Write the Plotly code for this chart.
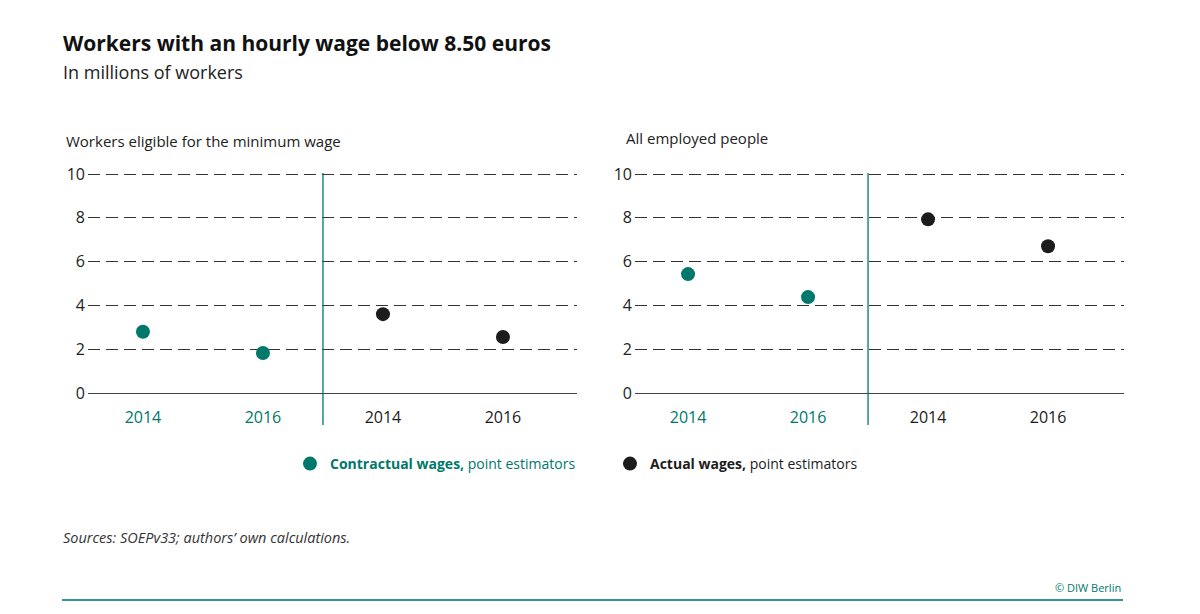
import plotly.graph_objects as go

# ---- data ----
categories = ["2014", "2016", "2014", "2016"]
cat_pos = [0, 1, 2, 3]
eligible_contractual = [2.8, 1.83]
eligible_actual = [3.6, 2.56]
all_contractual = [5.43, 4.38]
all_actual = [7.93, 6.7]
y_ticks = [0, 2, 4, 6, 8, 10]

TEAL = "#00786c"
BLACK = "#1c1c1c"
FONT = "Open Sans"
OFF = 8  # page body margin
W, H = 1200 - OFF, 614 - OFF

def px_x(p):
    return (p - OFF) / W

def px_y(p):
    return (H - (p - OFF)) / H

fig = go.Figure()

# left panel
fig.add_trace(go.Scatter(x=cat_pos[:2], y=eligible_contractual, mode="markers",
                         marker=dict(color=TEAL, size=14),
                         name=f'<span style="color:{TEAL}"><b>Contractual wages,</b> point estimators</span>',
                         xaxis="x", yaxis="y", legendgroup="c", showlegend=True))
fig.add_trace(go.Scatter(x=cat_pos[2:], y=eligible_actual, mode="markers",
                         marker=dict(color=BLACK, size=14),
                         name=f'<span style="color:{BLACK}"><b>Actual wages,</b> point estimators</span>',
                         xaxis="x", yaxis="y", legendgroup="a", showlegend=True))
# right panel
fig.add_trace(go.Scatter(x=cat_pos[:2], y=all_contractual, mode="markers",
                         marker=dict(color=TEAL, size=14), name="Contractual wages",
                         xaxis="x2", yaxis="y2", legendgroup="c", showlegend=False))
fig.add_trace(go.Scatter(x=cat_pos[2:], y=all_actual, mode="markers",
                         marker=dict(color=BLACK, size=14), name="Actual wages",
                         xaxis="x2", yaxis="y2", legendgroup="a", showlegend=False))

ticktext = [f'<span style="color:{TEAL if i < 2 else BLACK}">{c}</span>'
            for i, c in enumerate(categories)]

y_dom = [px_y(394.1), px_y(172.9)]

xaxis_common = dict(tickmode="array", tickvals=cat_pos, ticktext=ticktext,
                    showgrid=False, zeroline=False, showline=False, ticks="",
                    ticklabelstandoff=12, tickfont=dict(family=FONT, size=16, color=BLACK),
                    automargin=False, fixedrange=True)
yaxis_common = dict(range=[-0.05, 10.05], tickmode="array", tickvals=y_ticks,
                    showgrid=True, gridcolor="#333333", gridwidth=1, griddash="12px,6px",
                    zeroline=True, zerolinecolor="#444444", zerolinewidth=1.2,
                    showline=False, ticks="", ticklabelstandoff=2,
                    tickfont=dict(family=FONT, size=16, color="#222222"),
                    automargin=False, fixedrange=True, domain=y_dom)

fig.update_layout(
    width=W, height=H,
    margin=dict(l=0, r=0, t=0, b=0),
    paper_bgcolor="white", plot_bgcolor="white",
    xaxis=dict(domain=[px_x(88), px_x(577)], range=[-0.458, 3.617], anchor="y", **xaxis_common),
    yaxis=dict(anchor="x", **yaxis_common),
    xaxis2=dict(domain=[px_x(635), px_x(1124)], range=[-0.442, 3.633], anchor="y2", **xaxis_common),
    yaxis2=dict(anchor="x2", **yaxis_common),
    showlegend=True,
    legend=dict(orientation="h", x=px_x(290), y=px_y(464), xanchor="left", yanchor="middle",
                font=dict(family=FONT, size=14), entrywidth=275, entrywidthmode="pixels",
                bgcolor="rgba(0,0,0,0)", borderwidth=0),
    font=dict(family=FONT),
)

# separators
for xr in ["x", "x2"]:
    fig.add_shape(type="line", xref=xr, yref="paper", x0=1.5, x1=1.5,
                  y0=px_y(425), y1=px_y(173), line=dict(color=TEAL, width=1.3))

# bottom rule
fig.add_shape(type="line", xref="paper", yref="paper", x0=px_x(62), x1=px_x(1123),
              y0=px_y(600), y1=px_y(600), line=dict(color="#3a9393", width=2))

ann = [
    dict(text="<b>Workers with an hourly wage below 8.50 euros</b>", x=px_x(61), y=px_y(43),
         size=21, color="#111111", xanchor="left"),
    dict(text="In millions of workers", x=px_x(61), y=px_y(72), size=18, color="#222222", xanchor="left"),
    dict(text="Workers eligible for the minimum wage", x=px_x(64), y=px_y(141), size=15,
         color="#222222", xanchor="left"),
    dict(text="All employed people", x=px_x(624), y=px_y(138), size=15, color="#222222", xanchor="left"),
    dict(text="<i>Sources: SOEPv33; authors’ own calculations.</i>", x=px_x(61), y=px_y(537), size=14.5,
         color="#333333", xanchor="left"),
    dict(text="© DIW Berlin", x=px_x(1123), y=px_y(587), size=11, color=TEAL, xanchor="right"),
]
for a in ann:
    fig.add_annotation(text=a["text"], x=a["x"], y=a["y"], xref="paper", yref="paper",
                       xanchor=a["xanchor"], yanchor="middle", showarrow=False,
                       font=dict(family=FONT, size=a["size"], color=a["color"]))

fig.write_html("out.html")
